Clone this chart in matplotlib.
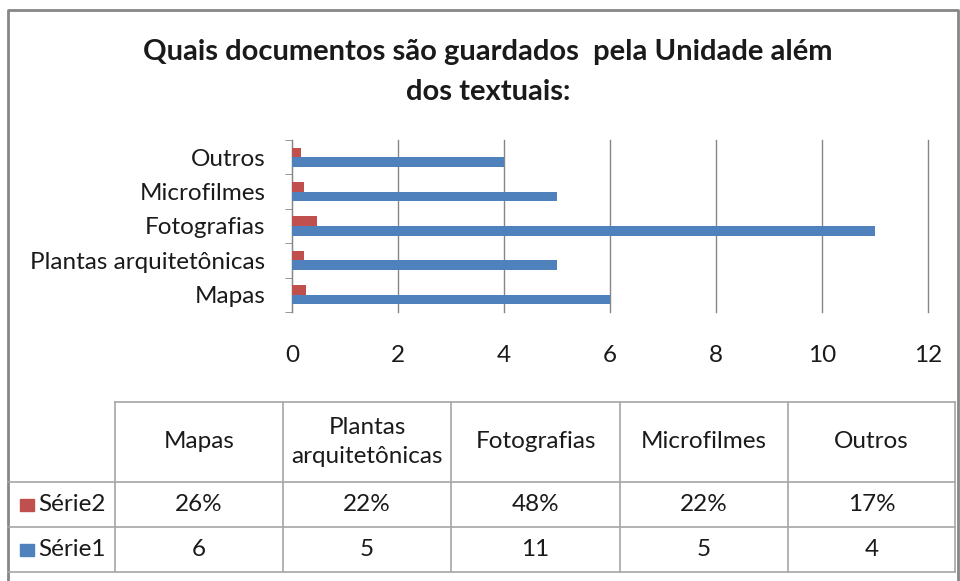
import numpy as np
import matplotlib.pyplot as plt

plt.rcParams['font.family'] = ['Lato', 'DejaVu Sans']

categorias = ['Mapas', 'Plantas arquitetônicas', 'Fotografias', 'Microfilmes', 'Outros']
cabecalho = ['Mapas', 'Plantas\narquitetônicas', 'Fotografias', 'Microfilmes', 'Outros']
serie1 = [6, 5, 11, 5, 4]
serie2 = [0.26, 0.22, 0.48, 0.22, 0.17]
nomes_series = ['Série2', 'Série1']
xticks = [0, 2, 4, 6, 8, 10, 12]

azul = '#4F81BD'
vermelho = '#C0504D'
cinza = '#868686'
texto = '#1a1a1a'
fs = 17.5

W, H = 960, 581
fig = plt.figure(figsize=(W / 100, H / 100), dpi=100)

# camada de fundo em pixels (moldura e tabela)
bg = fig.add_axes([0, 0, 1, 1])
bg.set_xlim(0, W)
bg.set_ylim(H, 0)
bg.axis('off')
bg.plot([8, 8, 958, 958], [600, 10, 10, 600], color=cinza, lw=2, solid_capstyle='butt')

# grafico
ax = fig.add_axes([292 / W, 1 - 312 / H, (928 - 292) / W, (312 - 140) / H])
y = np.arange(len(categorias))
h = 0.28
ax.barh(y + h / 2, serie2, height=h, color=vermelho, zorder=3)
ax.barh(y - h / 2, serie1, height=h, color=azul, zorder=3)
ax.set_xlim(0, 12)
ax.set_ylim(-0.5, len(categorias) - 0.5)
ax.set_xticks(xticks)
ax.set_yticks(y)
ax.set_yticklabels(categorias)
ax.set_yticks(np.arange(-0.5, len(categorias)), minor=True)
ax.tick_params(axis='y', which='minor', length=5, color=cinza, left=True)
ax.tick_params(axis='y', which='major', length=0, pad=19, labelsize=fs, labelcolor=texto)
ax.tick_params(axis='x', length=0, pad=24, labelsize=fs, labelcolor=texto)
ax.grid(axis='x', color=cinza, lw=1, zorder=0)
for g in ax.get_xgridlines():
    g.set_clip_on(False)
for s in ['top', 'right', 'bottom']:
    ax.spines[s].set_visible(False)
ax.spines['left'].set_color(cinza)

fig.text(488 / W, 1 - 52 / H, 'Quais documentos são guardados  pela Unidade além',
         ha='center', va='center', fontsize=21, fontweight='bold', color=texto)
fig.text(488 / W, 1 - 92 / H, 'dos textuais:',
         ha='center', va='center', fontsize=21, fontweight='bold', color=texto)

# tabela de dados
cols = [115, 283, 451, 620, 788, 955]
rows = [402, 482, 527, 572]
lc = '#a6a6a6'
bg.plot([cols[0], cols[-1]], [rows[0], rows[0]], color=lc, lw=1.2)
for r in rows[1:]:
    bg.plot([8, cols[-1]], [r, r], color=lc, lw=1.2)
for c in cols:
    bg.plot([c, c], [rows[0], rows[-1]], color=lc, lw=1.2)

for i, lab in enumerate(cabecalho):
    cx = (cols[i] + cols[i + 1]) / 2
    bg.text(cx, (rows[0] + rows[1]) / 2, lab, ha='center', va='center',
            fontsize=fs, color=texto, linespacing=1.45)
    bg.text(cx, (rows[1] + rows[2]) / 2, f'{round(serie2[i] * 100)}%',
            ha='center', va='center', fontsize=fs, color=texto)
    bg.text(cx, (rows[2] + rows[3]) / 2, str(serie1[i]),
            ha='center', va='center', fontsize=fs, color=texto)

for k, (nome, cor) in enumerate(zip(nomes_series, [vermelho, azul])):
    cy = (rows[k + 1] + rows[k + 2]) / 2
    bg.add_patch(plt.Rectangle((20, cy - 6), 14, 12, color=cor))
    bg.text(38, cy, nome, ha='left', va='center', fontsize=fs, color=texto)

fig.savefig('out.png', dpi=100)
